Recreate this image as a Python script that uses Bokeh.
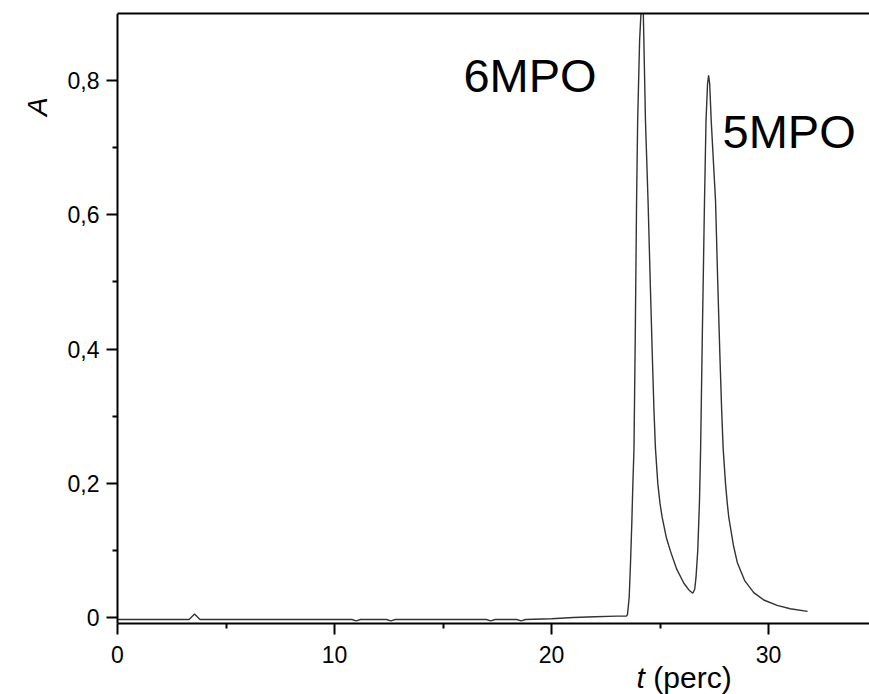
import math
from bokeh.plotting import figure
from bokeh.models import Range1d, FixedTicker, CustomJSTickFormatter, Label, LinearAxis
from bokeh.embed import file_html
from bokeh.resources import INLINE

# Chromatogram: time (perc) and absorbance A
t_perc = [0.0, 2.0, 3.3, 3.55, 3.8, 5.0, 8.0, 10.8, 11.0, 11.2, 12.4, 12.6, 12.8,
          15.0, 17.0, 17.2, 17.4, 18.4, 18.6, 18.8, 20.0, 21.0, 22.0, 23.0, 23.45,
          23.5, 23.58, 23.64, 23.7, 23.75, 23.8, 23.86, 23.92, 23.97, 24.06, 24.2,
          24.33, 24.45, 24.55, 24.65, 24.72, 24.79, 24.9, 25.0, 25.1, 25.3, 25.5, 25.77,
          26.1, 26.33, 26.51,
          26.6, 26.66, 26.74, 26.82, 26.87, 26.95, 27.05, 27.12, 27.19, 27.24, 27.29,
          27.36, 27.56, 27.66, 27.76, 27.84, 27.91, 28.02, 28.1, 28.17, 28.38, 28.56,
          28.9, 29.32, 29.78, 30.4, 31.0, 31.8]
absorb = [-0.003, -0.003, -0.003, 0.005, -0.003, -0.003, -0.003, -0.003, -0.005, -0.003, -0.003, -0.005, -0.003,
          -0.003, -0.003, -0.005, -0.003, -0.003, -0.005, -0.003, -0.002, 0.0, 0.001, 0.002, 0.002,
          0.004, 0.03, 0.08, 0.14, 0.20, 0.25, 0.42, 0.62, 0.74, 0.86, 0.95,
          0.74, 0.62, 0.50, 0.385, 0.31, 0.252, 0.199, 0.170, 0.149, 0.118, 0.097, 0.072,
          0.051, 0.041, 0.036,
          0.042, 0.06, 0.10, 0.174, 0.249, 0.42, 0.62, 0.74, 0.795, 0.808, 0.795,
          0.74, 0.62, 0.50, 0.39, 0.31, 0.252, 0.199, 0.170, 0.149, 0.108, 0.082,
          0.055, 0.037, 0.026, 0.018, 0.013, 0.009]

x_ticks = [0, 10, 20, 30]
x_minor = [5, 15, 25]
y_ticks = [0, 0.2, 0.4, 0.6, 0.8]
y_minor = [0.1, 0.3, 0.5, 0.7]

peak_names = ["6MPO", "5MPO"]
peak_label_t = [15.94, 27.88]
peak_label_a = [0.807, 0.7235]

FONT = "Liberation Sans"

X0, X1 = 0.0, 34.654
Y0, Y1 = -0.009, 0.9

p = figure(width=869, height=694, output_backend="svg", toolbar_location=None,
           x_range=Range1d(-5.392, X1), y_range=Range1d(-0.1148, Y1),
           x_axis_location=None, y_axis_location=None,
           min_border_left=0, min_border_right=0, min_border_top=13, min_border_bottom=0)
p.outline_line_color = None
p.xgrid.visible = False
p.ygrid.visible = False
p.background_fill_color = "white"
p.border_fill_color = "white"

p.line(t_perc, absorb, line_color="#333333", line_width=1.4)

xax = LinearAxis(fixed_location=Y0, bounds=(X0, X1))
yax = LinearAxis(fixed_location=X0, bounds=(Y0, Y1))
for ax, ticks, minor in ((xax, x_ticks, x_minor), (yax, y_ticks, y_minor)):
    ax.ticker = FixedTicker(ticks=ticks, minor_ticks=minor)
    ax.axis_line_width = 2
    ax.axis_line_color = "black"
    ax.major_tick_line_width = 2
    ax.minor_tick_line_width = 2
    ax.major_tick_line_color = "black"
    ax.minor_tick_line_color = "black"
    ax.major_tick_in = 0
    ax.minor_tick_in = 0
    ax.major_tick_out = 11
    ax.minor_tick_out = 5
    ax.major_label_text_font = FONT
    ax.major_label_text_font_size = "23px"
    ax.major_label_text_color = "black"
xax.major_label_standoff = 11
yax.major_label_standoff = 7
yax.formatter = CustomJSTickFormatter(code="return tick == 0 ? '0' : tick.toFixed(1).replace('.', ',');")
xax.formatter = CustomJSTickFormatter(code="return tick.toFixed(0);")
p.add_layout(xax, "below")
p.add_layout(yax, "left")

# top frame line as a bare axis
top = LinearAxis(bounds=(X0, X1), ticker=FixedTicker(ticks=[]), axis_line_width=2,
                 axis_line_color="black", major_tick_out=0, major_tick_in=0,
                 minor_tick_out=0, minor_tick_in=0, major_label_text_font_size="0px")
p.add_layout(top, "above")

for name, tx, ty in zip(peak_names, peak_label_t, peak_label_a):
    p.add_layout(Label(x=tx, y=ty, text=name, text_font=FONT, text_font_size="47px",
                       text_color="black", text_align="left", text_baseline="middle"))

# axis titles
p.add_layout(Label(x=23.92, y=-0.0894, text="t", text_font=FONT, text_font_style="italic",
                   text_font_size="30px", text_color="black", text_align="left", text_baseline="middle"))
p.add_layout(Label(x=24.69, y=-0.0894, text="(perc)", text_font=FONT,
                   text_font_size="30px", text_color="black", text_align="left", text_baseline="middle"))
p.add_layout(Label(x=-3.69, y=0.761, text="A", text_font=FONT, text_font_style="italic",
                   text_font_size="28px", text_color="black", text_align="center", text_baseline="middle",
                   angle=math.pi / 2))

open("out.html", "w").write(file_html(p, INLINE))
